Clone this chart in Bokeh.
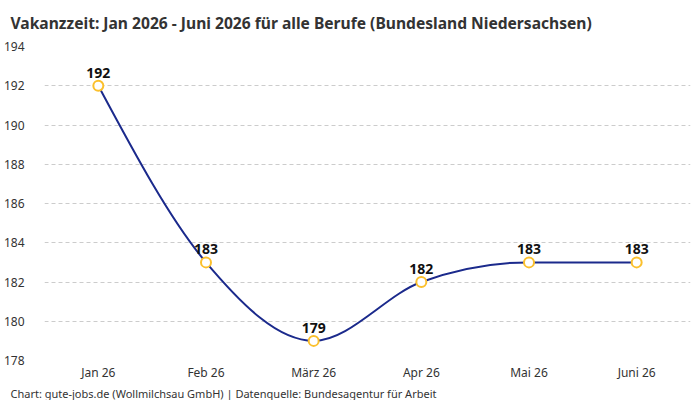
from bokeh.plotting import figure
from bokeh.models import FixedTicker, Title, ColumnDataSource, Range1d
from bokeh.core.properties import value
from bokeh.embed import file_html
from bokeh.resources import INLINE

months = ["Jan 26", "Feb 26", "März 26", "Apr 26", "Mai 26", "Juni 26"]
values = [192, 183, 179, 182, 183, 183]
y_ticks = [178, 180, 182, 184, 186, 188, 190, 192, 194]

title_text = "Vakanzzeit: Jan 2026 - Juni 2026 für alle Berufe (Bundesland Niedersachsen)"
footer_text = "Chart: gute-jobs.de (Wollmilchsau GmbH) | Datenquelle: Bundesagentur für Arbeit"

FONT = "Noto Sans"
LINE = "#1b2a8c"
MARK = "#fbc02d"

xs = list(range(len(months)))

# monotone cubic (monotoneX-style) tangents
n = len(values)
deltas = [values[i + 1] - values[i] for i in range(n - 1)]
m = [0.0] * n
for i in range(1, n - 1):
    s0, s1 = deltas[i - 1], deltas[i]
    if s0 * s1 <= 0:
        m[i] = 0.0
    else:
        pm = (s0 + s1) / 2
        sg = 1 if s0 > 0 else -1
        m[i] = sg * 2 * min(abs(s0), abs(s1), 0.5 * abs(pm))
m[0] = (3 * deltas[0] - m[1]) / 2
m[-1] = (3 * deltas[-1] - m[-2]) / 2

seg = dict(
    x0=xs[:-1], y0=values[:-1], x1=xs[1:], y1=values[1:],
    cx0=[x + 1 / 3 for x in xs[:-1]],
    cy0=[values[i] + m[i] / 3 for i in range(n - 1)],
    cx1=[x + 2 / 3 for x in xs[:-1]],
    cy1=[values[i + 1] - m[i + 1] / 3 for i in range(n - 1)],
)

p = figure(width=700, height=400, output_backend="svg", toolbar_location=None,
           x_range=Range1d(-0.5, len(months) - 0.5), y_range=Range1d(178, 194),
           min_border_left=10, min_border_right=10, min_border_top=46, min_border_bottom=0)
p.title.visible = False
p.outline_line_color = None
p.background_fill_color = "white"
p.border_fill_color = "white"

t = Title(text=title_text, align="left", vertical_align="top", text_font=FONT,
          text_font_size="15.6px", text_font_style="bold", text_color="#333333",
          offset=-34, standoff=22)
p.add_layout(t, "above")

p.xaxis.ticker = FixedTicker(ticks=xs)
p.xaxis.major_label_overrides = {i: s for i, s in enumerate(months)}
p.yaxis.ticker = FixedTicker(ticks=y_ticks)
for ax in (p.xaxis, p.yaxis):
    ax.axis_line_color = None
    ax.major_tick_line_color = None
    ax.minor_tick_line_color = None
    ax.major_label_text_font = FONT
    ax.major_label_text_font_size = "12px"
    ax.major_label_text_color = "#333333"
p.yaxis.major_label_standoff = 14
p.xaxis.major_label_standoff = -3

p.xgrid.grid_line_color = None
p.ygrid.grid_line_color = "#cccccc"
p.ygrid.grid_line_dash = "4 3"
p.ygrid.grid_line_width = 1

p.bezier(x0="x0", y0="y0", x1="x1", y1="y1", cx0="cx0", cy0="cy0", cx1="cx1", cy1="cy1",
         source=ColumnDataSource(seg), line_color=LINE, line_width=2)

src = ColumnDataSource(dict(x=xs, y=values, lab=[str(v) for v in values]))
p.scatter("x", "y", source=src, size=10, fill_color="white", line_color=MARK, line_width=2)
p.text("x", "y", text="lab", source=src, text_align="center", text_baseline="bottom",
       y_offset=-8, text_font=value(FONT), text_font_size="14px", text_font_style="bold",
       text_color="#111111")

f = Title(text=footer_text, align="left", text_font=FONT, text_font_size="11px",
          text_font_style="normal", text_color="#333333", offset=-34, standoff=0)
p.add_layout(f, "below")

open("out.html", "w").write(file_html(p, INLINE))
